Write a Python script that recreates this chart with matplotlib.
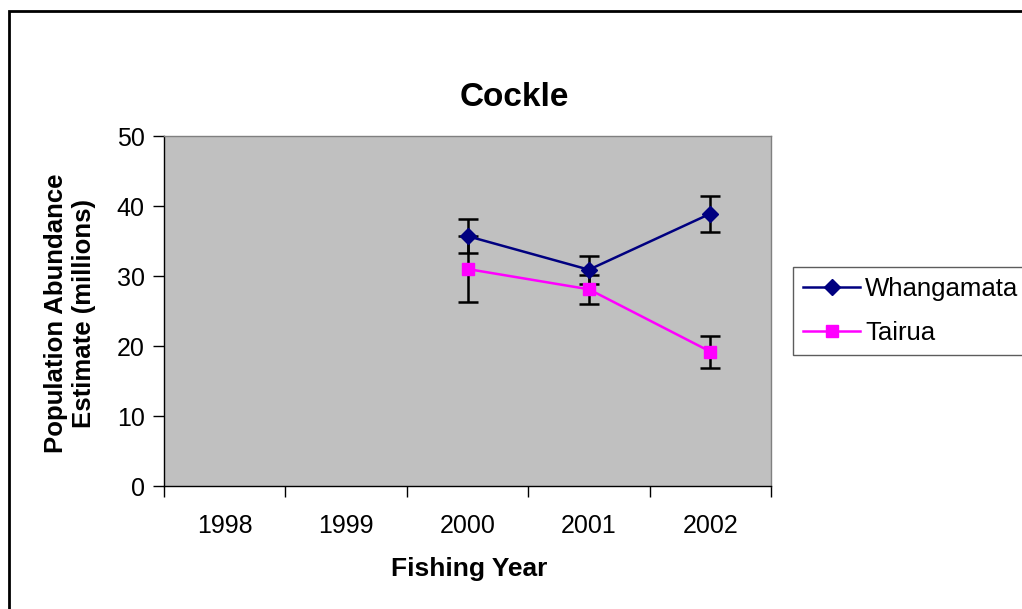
import matplotlib
matplotlib.use("Agg")
import matplotlib.pyplot as plt
import matplotlib.patches as mpatches
import numpy as np

plt.rcParams['font.family'] = ['Liberation Sans', 'DejaVu Sans']

years = ["1998", "1999", "2000", "2001", "2002"]
whangamata = [np.nan, np.nan, 35.7, 30.9, 38.9]
whangamata_err = [np.nan, np.nan, 2.4, 2.0, 2.6]
tairua = [np.nan, np.nan, 31.0, 28.1, 19.2]
tairua_err = [np.nan, np.nan, 4.7, 2.1, 2.3]

W, H = 1022, 609
fig = plt.figure(figsize=(W / 100, H / 100), dpi=100)
ax = fig.add_axes([164 / W, 1 - 486 / H, 607 / W, 350 / H])
ax.set_facecolor('#C0C0C0')

x = np.arange(len(years)) + 0.5

ax.errorbar(x, whangamata, yerr=whangamata_err, fmt='none', ecolor='black',
            elinewidth=1.8, capsize=7, capthick=1.8, zorder=2)
ax.errorbar(x, tairua, yerr=tairua_err, fmt='none', ecolor='black',
            elinewidth=1.8, capsize=7, capthick=1.8, zorder=2)
ax.plot(x, whangamata, color='#000080', lw=1.8, marker='D', markersize=8,
        markerfacecolor='#000080', markeredgecolor='#000080', label='Whangamata', zorder=3)
ax.plot(x, tairua, color='#FF00FF', lw=1.8, marker='s', markersize=8,
        markerfacecolor='#FF00FF', markeredgecolor='#FF00FF', label='Tairua', zorder=3)

ax.set_xlim(0, len(years))
ax.set_ylim(0, 50)
ax.set_yticks(np.arange(0, 51, 10))
ax.set_xticks(np.arange(0, len(years) + 1))
ax.set_xticklabels([])
ax.set_xticks(x, minor=True)
ax.set_xticklabels(years, minor=True)
ax.tick_params(axis='x', which='major', length=8, width=1, direction='out', color='black')
ax.tick_params(axis='x', which='minor', length=0, pad=20, labelsize=18)
ax.tick_params(axis='y', length=8, width=1, direction='out', labelsize=18, pad=6, color='black')

for s in ['left', 'bottom']:
    ax.spines[s].set_color('black')
    ax.spines[s].set_linewidth(1)
for s in ['top', 'right']:
    ax.spines[s].set_color('#808080')
    ax.spines[s].set_linewidth(1)

fig.text(514 / W, 1 - 97 / H, 'Cockle', ha='center', va='center', fontsize=24, fontweight='bold')
fig.text(469 / W, 1 - 569 / H, 'Fishing Year', ha='center', va='center', fontsize=19, fontweight='bold')
fig.text(70 / W, 1 - 313 / H, 'Population Abundance\nEstimate (millions)', ha='center', va='center',
         rotation=90, fontsize=18.5, fontweight='bold', linespacing=1.2)

leg = ax.legend(loc='upper left', bbox_to_anchor=(793 / W, 1 - 267 / H),
                bbox_transform=fig.transFigure, frameon=True, fancybox=False,
                edgecolor='#333333', fontsize=18.5, handlelength=2.2, handletextpad=0.2,
                borderpad=0.4, labelspacing=0.75, borderaxespad=0)
leg.get_frame().set_linewidth(1)
leg.get_frame().set_facecolor('white')

border = mpatches.Rectangle((9 / W, -0.2), 1.5, 1 - 11 / H + 0.2, transform=fig.transFigure,
                            fill=False, edgecolor='black', linewidth=2, clip_on=False)
fig.patches.append(border)

fig.savefig('out.png', dpi=100)
